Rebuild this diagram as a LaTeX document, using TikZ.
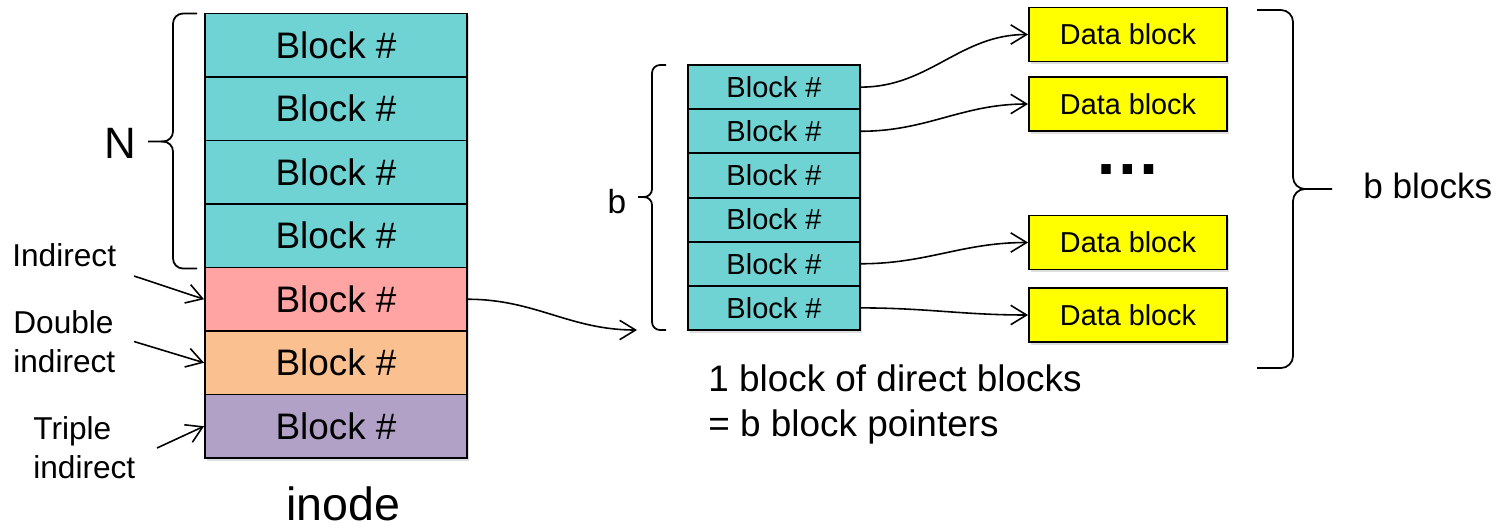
\documentclass[tikz,border=0pt]{standalone}
\usepackage{fontspec}
\setmainfont{Liberation Sans}
\usepackage{tikz}
\usetikzlibrary{arrows.meta}
\usetikzlibrary{shadows}

\definecolor{blockteal}{RGB}{112,211,211}
\definecolor{blockpink}{RGB}{255,163,163}
\definecolor{blockorange}{RGB}{250,192,144}
\definecolor{blockpurple}{RGB}{178,161,199}
\definecolor{datayellow}{RGB}{255,255,0}

\tikzset{
    boxshadow/.style={drop shadow={shadow xshift=1.2pt, shadow yshift=-1.5pt, opacity=0.25}},
    inodeblk/.style={draw=black, line width=1.1pt, inner sep=0pt, minimum width=5.24cm, minimum height=1.27cm, font=\fontsize{21}{25}\selectfont, boxshadow},
    ptrblk/.style={draw=black, line width=1.1pt, inner sep=0pt, fill=blockteal, minimum width=3.44cm, minimum height=0.883cm, font=\fontsize{16.5}{20}\selectfont, boxshadow},
    datablk/.style={draw=black, line width=1.1pt, inner sep=0pt, fill=datayellow, minimum width=3.96cm, minimum height=1.08cm, font=\fontsize{16.4}{20}\selectfont, boxshadow},
    sidelabel/.style={anchor=west, inner sep=0pt, align=left, font=\fontsize{18}{22.4}\selectfont},
    pointer/.style={->, line width=0.9pt},
    bracket/.style={line width=1pt},
}

\begin{document}
\begin{tikzpicture}[x=0.02cm, y=-0.02cm, >={Straight Barb[length=9pt,width=11pt]}]
    \useasboundingbox (0,0) rectangle (1503,528);

            % inode
            \node[inodeblk, fill=blockteal] (d1) at (336,45.25) {Block \#};
            \node[inodeblk, fill=blockteal] (d2) at (336,108.75) {Block \#};
            \node[inodeblk, fill=blockteal] (d3) at (336,172.25) {Block \#};
            \node[inodeblk, fill=blockteal] (d4) at (336,235.75) {Block \#};
            \node[inodeblk, fill=blockpink] (ind) at (336,299.25) {Block \#};
            \node[inodeblk, fill=blockorange] (dbl) at (336,362.75) {Block \#};
            \node[inodeblk, fill=blockpurple] (tpl) at (336,426.25) {Block \#};
            \node[font=\fontsize{26.5}{30}\selectfont, inner sep=0pt] (inode) at (343,504) {inode};

            \node[font=\fontsize{25}{30}\selectfont, inner sep=0pt] (N) at (120,143.5) {N};
            \draw[bracket, rounded corners=0.2cm] (197,13.5) -- (173,13.5) -- (173,141.5) -- (148,141.5);
            \draw[bracket, rounded corners=0.2cm] (161,141.5) -- (173,141.5) -- (173,268.5) -- (197,268.5);

            \node[sidelabel] (lind) at (12,255.5) {Indirect};
            \node[sidelabel] (ldbl) at (13,341.5) {Double\\indirect};
            \node[sidelabel] (ltpl) at (33,447.5) {Triple\\indirect};
            \coordinate (tind) at (134,276);
            \coordinate (tdbl) at (134,341.5);
            \coordinate (ttpl) at (157,448);
            \draw[pointer] (tind) -- (ind.west);
            \draw[pointer] (tdbl) -- (dbl.west);
            \draw[pointer] (ttpl) -- (tpl.west);

            % block of pointers
            \node[ptrblk] (p1) at (774,87.1) {Block \#};
            \node[ptrblk] (p2) at (774,131.25) {Block \#};
            \node[ptrblk] (p3) at (774,175.4) {Block \#};
            \node[ptrblk] (p4) at (774,219.6) {Block \#};
            \node[ptrblk] (p5) at (774,263.75) {Block \#};
            \node[ptrblk] (p6) at (774,307.9) {Block \#};

            \node[font=\fontsize{19}{23}\selectfont, inner sep=0pt] (b) at (617,202) {b};
            \draw[bracket, rounded corners=0.16cm] (666,65) -- (652,65) -- (652,197) -- (638,197);
            \draw[bracket, rounded corners=0.16cm] (645,197) -- (652,197) -- (652,330) -- (666,330);

            \coordinate (ptrend) at (637,330);
            \draw[pointer] (ind.east) to[out=0, in=180] (ptrend);

            \node[anchor=west, align=left, inner sep=0pt, font=\fontsize{21}{25.6}\selectfont] (note) at (708,404.5) {1 block of direct blocks\\= b block pointers};

            % data blocks
            \node[datablk] (db1) at (1128,34.5) {Data block};
            \node[datablk] (db2) at (1128,104) {Data block};
            \node[datablk] (db3) at (1128,242.5) {Data block};
            \node[datablk] (db4) at (1128,315) {Data block};
            \node[anchor=base, inner sep=0pt, font=\fontsize{38}{40}\selectfont\bfseries] (dots) at (1128,174) {\ldots};

            \draw[pointer] (p1.east) to[out=0, in=180] (db1.west);
            \draw[pointer] (p2.east) to[out=0, in=180] (db2.west);
            \draw[pointer] (p5.east) to[out=0, in=180] (db3.west);
            \draw[pointer] (p6.east) to[out=0, in=180] (db4.west);

            \draw[bracket, rounded corners=0.24cm] (1257,10) -- (1293,10) -- (1293,189) -- (1332,189);
            \draw[bracket, rounded corners=0.24cm] (1305,189) -- (1293,189) -- (1293,368) -- (1257,368);
            \node[anchor=west, inner sep=0pt, font=\fontsize{20}{24}\selectfont] (bblocks) at (1363,186) {b blocks};

\end{tikzpicture}
\end{document}
